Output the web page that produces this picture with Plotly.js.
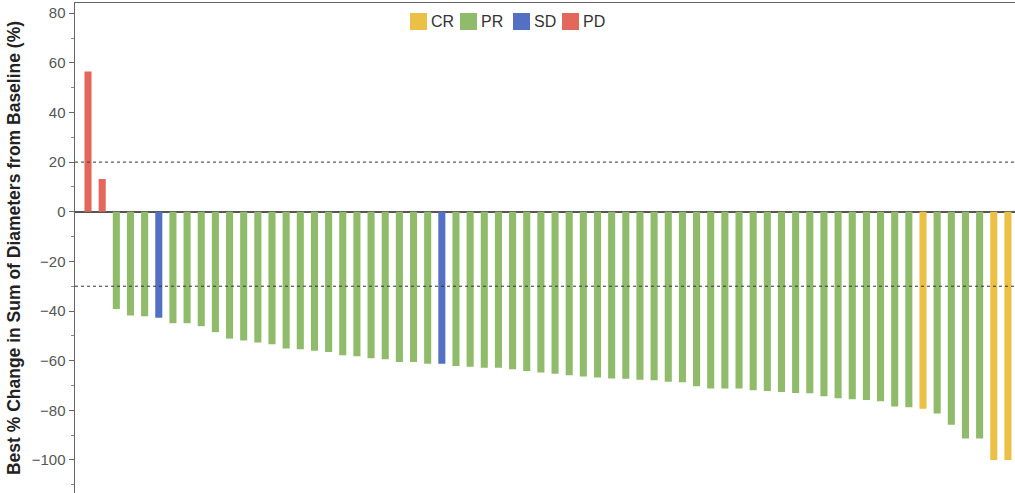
<!DOCTYPE html>
<html>
<head>
<meta charset="utf-8">
<script src="https://cdn.plot.ly/plotly-3.0.1.min.js"></script>
<style>html,body{margin:0;padding:0;background:#fff}#chart{width:1015px;height:493px}</style>
</head>
<body>
<div id="chart"></div>
<script>
// Best % change per patient (sorted waterfall order)
const changes = [
  56.5, 13.2, -39.2, -41.8, -42.1, -42.7, -44.9, -44.9, -46.1, -48.5,
  -51.1, -51.9, -52.7, -53.4, -55.1, -55.4, -56.0, -56.5, -57.8, -58.2,
  -59.0, -59.4, -60.5, -60.5, -61.2, -61.2, -62.1, -62.4, -62.8, -62.8,
  -63.4, -64.2, -64.8, -65.3, -65.9, -66.4, -66.8, -67.2, -67.3, -67.7,
  -67.9, -68.5, -68.7, -70.3, -71.2, -71.2, -71.2, -71.9, -72.2, -72.6,
  -73.0, -73.1, -74.3, -75.1, -75.5, -75.8, -76.3, -78.5, -78.8, -79.4,
  -81.3, -85.8, -91.3, -91.3, -100.0, -100.0
];
const responses = [
  'PD','PD','PR','PR','PR','SD','PR','PR','PR','PR',
  'PR','PR','PR','PR','PR','PR','PR','PR','PR','PR',
  'PR','PR','PR','PR','PR','SD','PR','PR','PR','PR',
  'PR','PR','PR','PR','PR','PR','PR','PR','PR','PR',
  'PR','PR','PR','PR','PR','PR','PR','PR','PR','PR',
  'PR','PR','PR','PR','PR','PR','PR','PR','PR','CR',
  'PR','PR','PR','PR','CR','CR'
];
const categories = ['CR','PR','SD','PD'];
const colors = {CR:'#ECBF45', PR:'#8FBB6B', SD:'#5470C3', PD:'#E3675B'};
const yTicks = [80, 60, 40, 20, 0, -20, -40, -60, -80, -100];
const refLines = [20, -30];

const traces = categories.map(cat => {
  const xs = [], ys = [];
  changes.forEach((v, i) => { if (responses[i] === cat) { xs.push(i); ys.push(v); } });
  return {
    type: 'bar', name: cat, x: xs, y: ys, width: 0.5,
    marker: {color: colors[cat], line: {width: 0}},
    hoverinfo: 'x+y', showlegend: false
  };
});

// Compact legend (square swatch + label) drawn in paper coordinates
const W = 1015, H = 493, mL = 75, mR = 0, mT = 3, mB = 0;
const pw = W - mL - mR, ph = H - mT - mB;
const px = x => (x - mL) / pw;
const py = y => 1 - (y - mT) / ph;
const legendStarts = [410, 460, 513, 562];
const sq = 17, legTop = 13;

const legendShapes = categories.map((cat, k) => ({
  type: 'rect', xref: 'paper', yref: 'paper',
  x0: px(legendStarts[k]), x1: px(legendStarts[k] + sq),
  y0: py(legTop + sq), y1: py(legTop),
  fillcolor: colors[cat], line: {width: 0}
}));
const legendText = categories.map((cat, k) => ({
  xref: 'paper', yref: 'paper', x: px(legendStarts[k] + sq + 2), y: py(legTop + sq / 2),
  xanchor: 'left', yanchor: 'middle', text: cat, showarrow: false,
  font: {size: 16, color: '#333', family: 'Liberation Sans, Arial, sans-serif'}
}));

const layout = {
  width: W, height: H,
  margin: {l: mL, r: mR, t: mT, b: mB},
  paper_bgcolor: '#fff', plot_bgcolor: '#fff',
  barmode: 'overlay',
  font: {family: 'Liberation Sans, Arial, sans-serif', color: '#555'},
  showlegend: false,
  xaxis: {
    range: [-0.92, 65.5], showticklabels: false, ticks: '', showgrid: false,
    zeroline: false, showline: true, mirror: true, linecolor: '#666', linewidth: 1.5
  },
  yaxis: {
    range: [-113.3, 84.1], tickvals: yTicks, ticks: 'outside', ticklen: 5,
    tickcolor: '#666', tickfont: {size: 15, color: '#555'},
    minor: {dtick: 10, ticks: 'outside', ticklen: 3, tickcolor: '#888'},
    showgrid: false, zeroline: true, zerolinecolor: '#555', zerolinewidth: 1.5,
    showline: true, linecolor: '#666', linewidth: 1.5,
    title: {text: 'Best % Change in Sum of Diameters from Baseline (%)',
            font: {size: 17.5, color: '#222', family: 'Liberation Sans, Arial, sans-serif', weight: 'bold'},
            standoff: 6}
  },
  shapes: refLines.map(v => ({
    type: 'line', xref: 'paper', x0: 0, x1: 1, yref: 'y', y0: v, y1: v,
    line: {color: '#333', width: 1, dash: 'dot'}, layer: 'above'
  })).concat(legendShapes),
  annotations: legendText
};

Plotly.newPlot('chart', traces, layout, {displayModeBar: false, staticPlot: true});
</script>
</body>
</html>
